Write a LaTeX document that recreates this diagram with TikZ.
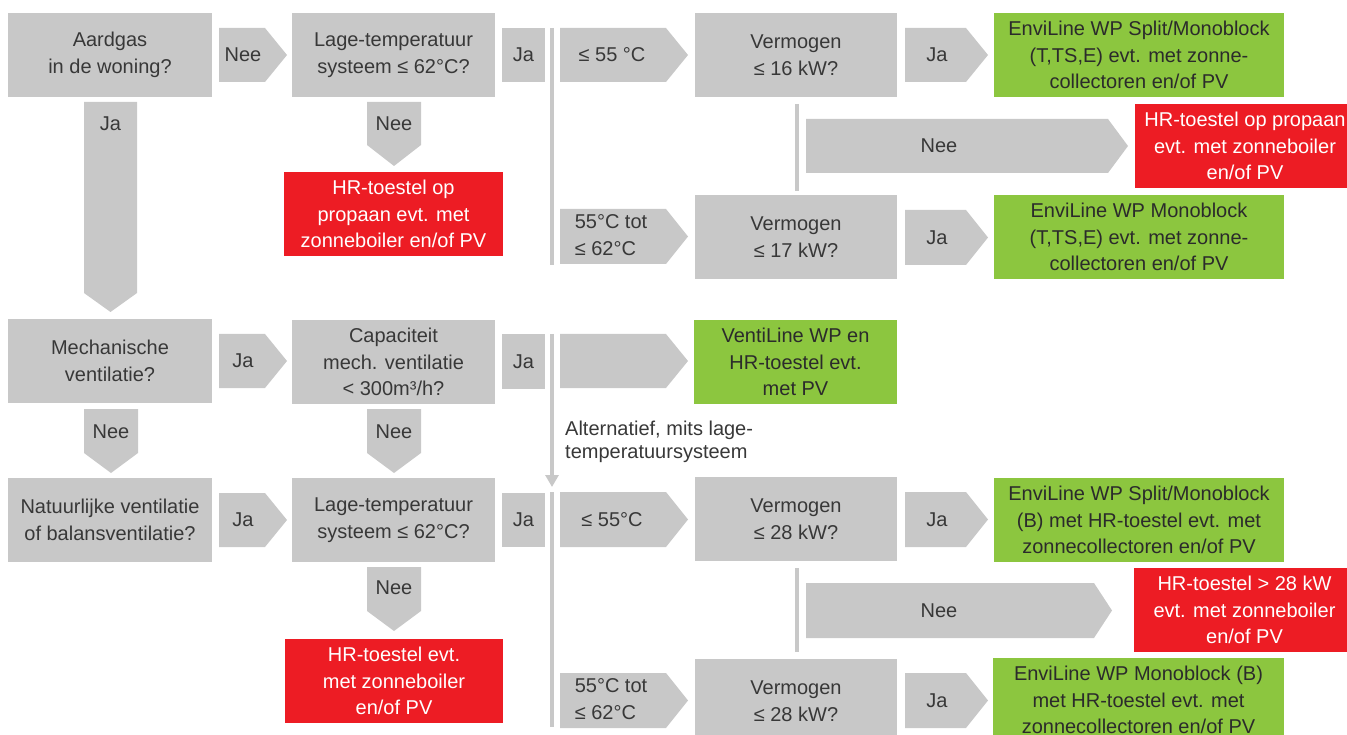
\documentclass[tikz,border=0pt]{standalone}
\usepackage{fontspec}
\setmainfont{Liberation Sans}
\usetikzlibrary{arrows.meta}
\definecolor{shapegray}{HTML}{C8C8C8}
\definecolor{hrred}{HTML}{ED1C24}
\definecolor{wpgreen}{HTML}{8CC63F}
\definecolor{txtdark}{HTML}{383838}
\definecolor{txtgrn}{HTML}{2B2B2B}
\tikzset{
  lbl/.style={font=\fontsize{20}{26.5}\selectfont, align=center, inner sep=0pt},
  fillgray/.style={fill=shapegray},
  fillred/.style={fill=hrred},
  fillgreen/.style={fill=wpgreen},
  txtgray/.style={lbl, text=txtdark},
  txtred/.style={lbl, text=white},
  txtgreen/.style={lbl, text=txtgrn},
  vline/.style={draw=shapegray, line width=4pt},
}
% box: name, x1, y1, x2, y2, kind, text
\newcommand\rbox[7]{%
  \fill[fill#6] (#2,#3) rectangle (#4,#5);
  \node[txt#6] (#1) at ({(#2+#4)/2},{(#3+#5)/2}) {#7};}
% right arrow: name, x1, y1, x2 (tip), y2, tip depth, text x, text
\newcommand\rarr[8]{%
  \fill[fillgray] (#2,#3) -- ({#4-#6},#3) -- (#4,{(#3+#5)/2}) -- ({#4-#6},#5) -- (#2,#5) -- cycle;
  \node[txtgray] (#1) at (#7,{(#3+#5)/2}) {#8};}
% down arrow: name, x1, y1, x2, y2 (tip), tip depth, text y, text
\newcommand\darr[8]{%
  \fill[fillgray] (#2,#3) -- (#4,#3) -- (#4,{#5-#6}) -- ({(#2+#4)/2},#5) -- (#2,{#5-#6}) -- cycle;
  \node[txtgray] (#1) at ({(#2+#4)/2},#7) {#8};}
\begin{document}
\begin{tikzpicture}[x=1pt,y=-1pt]
\useasboundingbox (0,0) rectangle (1347,735);
\clip (0,0) rectangle (1347,735);

% ---------- Row A ----------
\rbox{q1}{8}{13}{212}{97}{gray}{Aardgas\\in de woning?}
\rarr{a1}{219}{28}{287}{82}{22}{243}{Nee}
\rbox{q2}{292}{13}{495}{97}{gray}{Lage-temperatuur\\systeem ≤ 62°C?}
\rbox{j1}{502}{28}{545}{82}{gray}{Ja}
\coordinate (v1a) at (552,28); \coordinate (v1b) at (552,265);
\draw[vline] (v1a) -- (v1b);
\rarr{a2}{560}{28}{688}{82}{22}{612}{≤ 55 °C}
\rbox{q3}{695}{13}{897}{97}{gray}{Vermogen\\≤ 16 kW?}
\rarr{a3}{905}{28}{988}{82}{22}{937}{Ja}
\rbox{g1}{994}{13}{1284}{97}{green}{EnviLine WP Split/Monoblock\\(T,TS,E) evt. met zonne-\\collectoren en/of PV}

\darr{d1}{84}{102}{137}{312}{19}{124}{Ja}
\darr{d2}{367}{102}{421}{166}{21}{124}{Nee}
\rbox{r1}{284}{172}{503}{256}{red}{HR-toestel op\\propaan evt. met\\zonneboiler en/of PV}

\coordinate (v2a) at (797,104); \coordinate (v2b) at (797,191);
\draw[vline] (v2a) -- (v2b);
\rarr{a4}{806}{119}{1128}{173}{20}{939}{Nee}
\rbox{r2}{1135}{104}{1355}{188}{red}{HR-toestel op propaan\\evt. met zonneboiler\\en/of PV}

\rarr{a5}{560}{209}{688}{264}{22}{611}{\begin{tabular}{@{}l@{}}55°C tot\\≤ 62°C\end{tabular}}
\rbox{q4}{695}{195}{897}{279}{gray}{Vermogen\\≤ 17 kW?}
\rarr{a6}{905}{210}{988}{265}{22}{937}{Ja}
\rbox{g2}{994}{195}{1284}{279}{green}{EnviLine WP Monoblock\\(T,TS,E) evt. met zonne-\\collectoren en/of PV}

% ---------- Row B ----------
\rbox{q5}{8}{319}{212}{403}{gray}{Mechanische\\ventilatie?}
\rarr{a7}{219}{334}{287}{388}{22}{243}{Ja}
\rbox{q6}{292}{320}{495}{404}{gray}{Capaciteit\\mech. ventilatie\\< 300m³/h?}
\rbox{j2}{502}{334}{545}{389}{gray}{Ja}
\coordinate (v3a) at (552,334); \coordinate (v3b) at (552,487);
\draw[vline, -{Triangle[width=13pt,length=12pt]}] (v3a) -- (v3b);
\rarr{a8}{560}{334}{688}{388}{22}{612}{}
\rbox{g3}{694}{320}{897}{404}{green}{VentiLine WP en\\HR-toestel evt.\\met PV}

\darr{d3}{84}{409}{138}{473}{20}{432}{Nee}
\darr{d4}{367}{409}{421}{473}{20}{432}{Nee}
\node[lbl, font=\fontsize{20}{23}\selectfont, align=left, text=txtdark, anchor=west] (alt) at (565,442) {Alternatief, mits lage-\\temperatuursysteem};

% ---------- Row C ----------
\rbox{q7}{8}{478}{212}{562}{gray}{Natuurlijke ventilatie\\of balansventilatie?}
\rarr{a9}{219}{493}{287}{547}{22}{243}{Ja}
\rbox{q8}{292}{478}{495}{562}{gray}{Lage-temperatuur\\systeem ≤ 62°C?}
\rbox{j3}{502}{493}{545}{547}{gray}{Ja}
\coordinate (v4a) at (552,492); \coordinate (v4b) at (552,727);
\draw[vline] (v4a) -- (v4b);
\rarr{a10}{560}{492}{688}{547}{22}{612}{≤ 55°C}
\rbox{q9}{695}{477}{897}{561}{gray}{Vermogen\\≤ 28 kW?}
\rarr{a11}{905}{492}{988}{547}{22}{937}{Ja}
\rbox{g4}{994}{478}{1284}{562}{green}{EnviLine WP Split/Monoblock\\(B) met HR-toestel evt. met\\zonnecollectoren en/of PV}

\darr{d5}{367}{567}{421}{631}{20}{588}{Nee}
\rbox{r3}{285}{639}{503}{723}{red}{HR-toestel evt.\\met zonneboiler\\en/of PV}

\coordinate (v5a) at (797,568); \coordinate (v5b) at (797,652);
\draw[vline] (v5a) -- (v5b);
\rarr{a12}{806}{583}{1112}{638}{18}{939}{Nee}
\rbox{r4}{1134}{568}{1355}{652}{red}{HR-toestel > 28 kW\\evt. met zonneboiler\\en/of PV}

\rarr{a13}{560}{673}{688}{728}{22}{611}{\begin{tabular}{@{}l@{}}55°C tot\\≤ 62°C\end{tabular}}
\rbox{q10}{695}{659}{897}{743}{gray}{Vermogen\\≤ 28 kW?}
\rarr{a14}{905}{673}{988}{728}{22}{937}{Ja}
\rbox{g5}{993}{658}{1284}{742}{green}{EnviLine WP Monoblock (B)\\met HR-toestel evt. met\\zonnecollectoren en/of PV}
\end{tikzpicture}
\end{document}
